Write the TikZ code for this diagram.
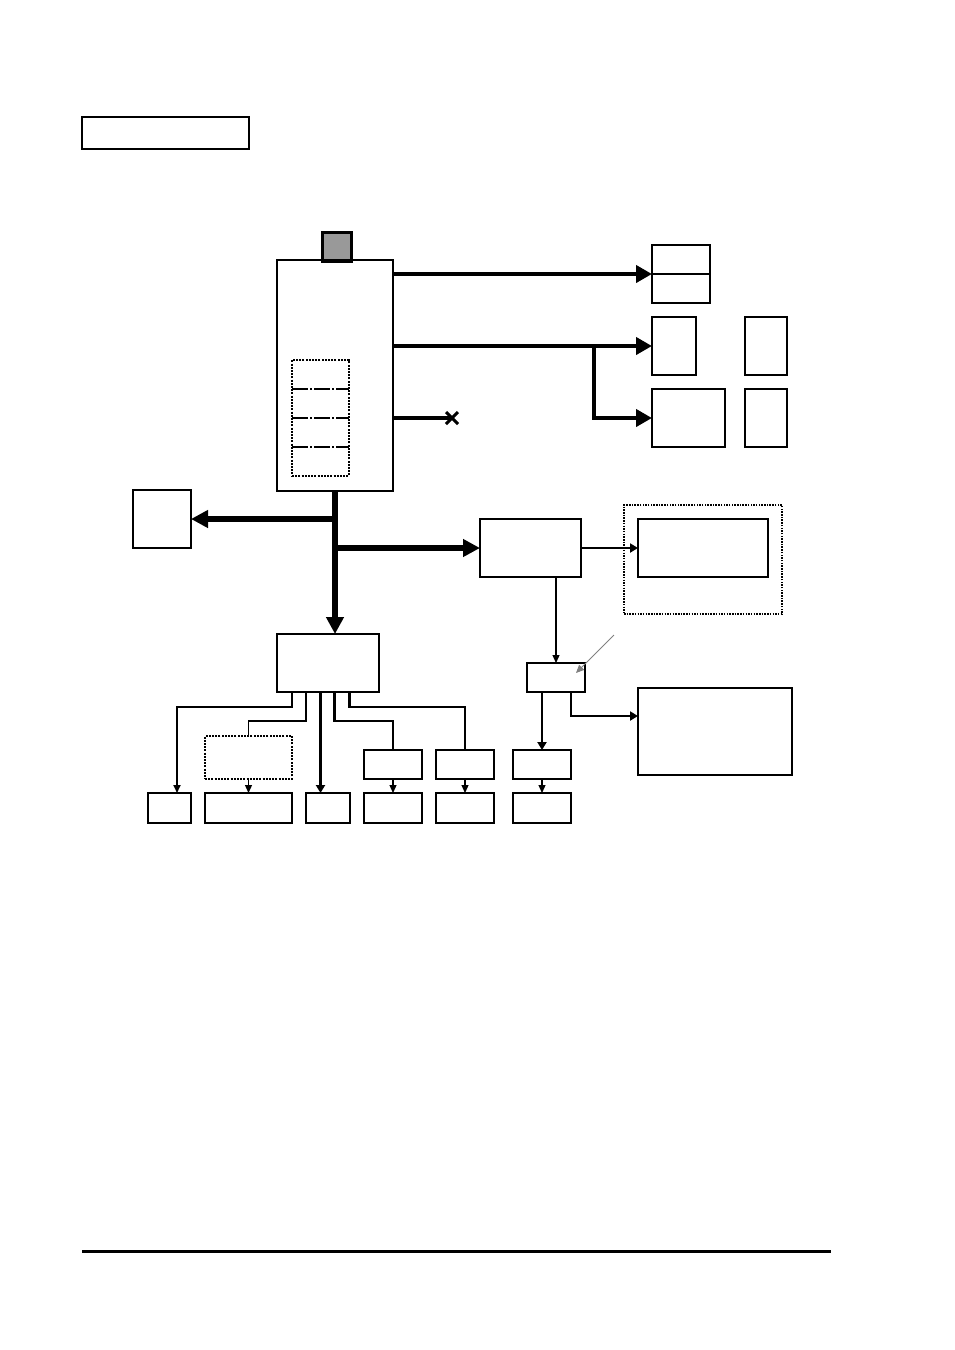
\documentclass[tikz,border=0pt]{standalone}
\usetikzlibrary{arrows.meta}
\newcommand\rectbox[6]{\node[#1,anchor=north west,minimum width={#5-#3},minimum height={#6-#4}] (#2) at (#3,#4) {};}
\tikzset{
  box/.style={draw,line width=1.4pt,inner sep=0pt,outer sep=0pt},
  thickbox/.style={box,line width=2.2pt},
  dotbox/.style={draw,line width=1.1pt,dash pattern=on 2pt off 1.2pt,inner sep=0pt,outer sep=0pt},
  heavydot/.style={draw,line width=2pt,dash pattern=on 1.5pt off 1.2pt,inner sep=0pt,outer sep=0pt},
  bigarrow/.style={line width=4.2pt,-{Triangle[length=16pt,width=17pt]}},
  busarrow/.style={line width=6.5pt,-{Triangle[length=17pt,width=17pt]}},
  midarrow/.style={line width=2.6pt,-{Triangle[length=8pt,width=9pt]}},
  thinarrow/.style={line width=1.2pt,-{Triangle[length=8pt,width=7pt]}},
  medline/.style={line width=2.4pt},
}
\begin{document}
\begin{tikzpicture}[x=1pt,y=-1pt]
\useasboundingbox (0,0) rectangle (954,1350);
% title box
\rectbox{thickbox,line width=1.8pt}{title}{82}{117}{249}{149}
% main unit
\node[draw,line width=2.8pt,fill={rgb,255:red,153;green,153;blue,153},anchor=north west,minimum width=29,minimum height=29,inner sep=0pt] (cap) at (321,231) {};
\rectbox{box}{main}{277}{260}{393}{491}
\rectbox{dotbox}{mem}{292}{360}{349}{476}
\foreach \yy in {389,418,447}
  \draw[line width=1.2pt,dash pattern=on 16pt off 2pt on 2pt off 2pt] (mem.west |- 0,\yy) -- (mem.east |- 0,\yy);
% right upper boxes
\rectbox{box}{ra}{652}{245}{710}{303}
\draw[line width=1.4pt] (ra.west) -- (ra.east);
\rectbox{box}{rb}{652}{317}{696}{375}
\rectbox{box}{rc}{745}{317}{787}{375}
\rectbox{box}{rd}{652}{389}{725}{447}
\rectbox{box}{re}{745}{389}{787}{447}
\draw[bigarrow] (main.east |- ra.west) -- (ra.west);
\draw[bigarrow] (main.east |- rb.west) -- (rb.west);
\coordinate (br) at (594,344);
\draw[bigarrow] (br) |- (rd.west);
\coordinate (xm) at (452,418);
\draw[line width=3.6pt] (main.east |- xm) -- (xm);
\draw[line width=3pt] ([shift={(-6,-6)}]xm) -- ([shift={(6,6)}]xm) ([shift={(-6,6)}]xm) -- ([shift={(6,-6)}]xm);
% bus
\rectbox{box}{lft}{133}{490}{191}{548}
\rectbox{box,line width=1.6pt}{mid}{480}{519}{581}{577}
\draw[line width=2.6pt] (mid.north east) -- (mid.south east);
\rectbox{thickbox}{hub}{277}{634}{379}{692}
\draw[busarrow] (main.south) -- (main.south |- hub.north);
\draw[busarrow] (main.south |- lft.east) -- (lft.east);
\draw[busarrow] (main.south |- mid.west) -- (mid.west);
% dotted group
\rectbox{heavydot}{grp}{624}{505}{782}{614}
\rectbox{box}{inner}{638}{519}{768}{577}
\draw[midarrow] (mid.east) -- (inner.west);
% small box chain
\rectbox{box}{sm}{527}{663}{585}{692}
\draw[thinarrow] ([xshift=76]mid.south west) -- ([xshift=29]sm.north west);
\coordinate (ptr) at (614,635);
\draw[gray,line width=0.9pt,-{Triangle[length=8pt,width=7pt]}] (ptr) -- (576,673);
\rectbox{box}{big}{638}{688}{792}{775}
\draw[midarrow] ([xshift=44]sm.south west) |- (big.west |- 0,716) ;
\rectbox{box}{m3}{513}{750}{571}{779}
\rectbox{box}{b6}{513}{793}{571}{823}
\draw[midarrow] ([xshift=15]sm.south west) -- (m3.north);
\draw[thinarrow] (m3.south) -- (b6.north);
% bottom tree
\rectbox{box}{b1}{148}{793}{191}{823}
\rectbox{box}{b2}{205}{793}{292}{823}
\rectbox{box}{b3}{306}{793}{350}{823}
\rectbox{box}{b4}{364}{793}{422}{823}
\rectbox{box}{b5}{436}{793}{494}{823}
\rectbox{dotbox}{d2}{205}{736}{292}{779}
\rectbox{box}{m1}{364}{750}{422}{779}
\rectbox{box}{m2}{436}{750}{494}{779}
\draw[thinarrow,line width=1.8pt] ([xshift=15]hub.south west) |- (177,707) -- (177,793);
\draw[line width=1.2pt] ([xshift=29]hub.south west) |- (d2.north |- 0,721) -- (d2.north);
\draw[midarrow] ([xshift=43.5]hub.south west) -- (b3.north -| 320.5,0);
\draw[medline] ([xshift=57.5]hub.south west) |- (m1.north |- 0,721) -- (m1.north);
\draw[medline] ([xshift=72.5]hub.south west) |- (m2.north |- 0,707) -- (m2.north);
\draw[thinarrow] (d2.south) -- (b2.north);
\draw[thinarrow] (m1.south) -- (b4.north);
\draw[thinarrow] (m2.south) -- (b5.north);
% footer rule
\coordinate (fl) at (82,1251);
\coordinate (fr) at (831,1251);
\draw[line width=3pt] (fl) -- (fr);
\end{tikzpicture}
\end{document}
